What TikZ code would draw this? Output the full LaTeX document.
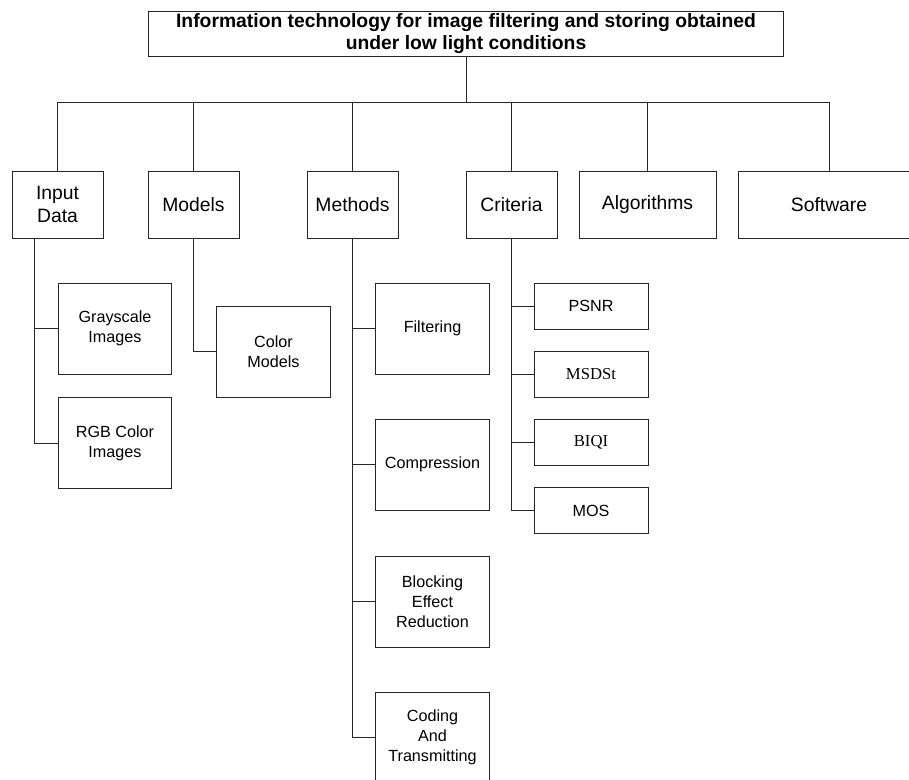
\documentclass[tikz,border=0pt]{standalone}
\usepackage{fontspec}
\setmainfont{Liberation Sans}
\newfontfamily\serifface{Liberation Serif}

\tikzset{
    box/.style={draw=black!85, line width=0.55pt, align=center, inner sep=2pt},
    topbox/.style={box, minimum width=1.82cm, minimum height=1.34cm, font=\fontsize{11}{13}\selectfont},
    subbox/.style={box, minimum width=2.27cm, minimum height=1.82cm, font=\fontsize{9.2}{11.3}\selectfont},
    critbox/.style={box, minimum width=2.28cm, minimum height=0.92cm, font=\fontsize{9.2}{11.3}\selectfont},
    link/.style={draw=black!85, line width=0.55pt}
}

\begin{document}
\begin{tikzpicture}[x=0.02cm, y=-0.02cm]
    \useasboundingbox (0,0) rectangle (909,780);
    \clip (0,0) rectangle (909,780);

    % title
    \node[box, minimum width=12.72cm, minimum height=0.9cm, inner sep=1pt, font=\bfseries\fontsize{11}{12.8}\selectfont]
        (title) at (466,33.5) {Information technology for image filtering and storing obtained\\under low light conditions};
    \coordinate (bus) at (466,102);

    % first level
    \node[topbox] (input) at (57.5,204.5) {Input\\Data};
    \node[topbox] (models) at (193.5,204.5) {Models};
    \node[topbox] (methods) at (352.5,204.5) {Methods};
    \node[topbox] (criteria) at (511.5,204.5) {Criteria};
    \node[topbox, minimum width=2.74cm] (algorithms) at (647.5,204.5) {Algorithms};
    \node[topbox, minimum width=3.64cm] (software) at (829,204.5) {Software};

    \draw[link] (title.south) -- (bus);
    \draw[link] (input.north) |- (software.north |- bus) -- (software.north);
    \foreach \n in {models,methods,criteria,algorithms}
        \draw[link] (\n.north) -- (\n.north |- bus);

    % input data
    \node[subbox] (gray) at (115,328.5) {Grayscale\\Images};
    \node[subbox] (rgb) at (115,443) {RGB Color\\Images};
    \draw[link] ([xshift=0.46cm]input.south west) |- (rgb.west);
    \draw[link] (gray.west) -- ++(-0.46cm,0);

    % models
    \node[subbox] (colormodels) at (273.5,351.5) {Color\\Models};
    \draw[link] (models.south) |- (colormodels.west);

    % methods
    \node[subbox] (filtering) at (432.5,328.5) {Filtering};
    \node[subbox] (compression) at (432.5,464.5) {Compression};
    \node[subbox] (blocking) at (432.5,601.5) {Blocking\\Effect\\Reduction};
    \node[subbox] (coding) at (432.5,737.5) {Coding\\And\\Transmitting};
    \draw[link] (methods.south) |- (coding.west);
    \foreach \n in {filtering,compression,blocking}
        \draw[link] (\n.west) -- (\n.west -| methods.south);

    % criteria
    \node[critbox] (psnr) at (591,306) {PSNR};
    \node[critbox, font=\serifface\fontsize{9.5}{12}\selectfont] (msdst) at (591,374.5) {MSDSt};
    \node[critbox, font=\serifface\fontsize{9.5}{12}\selectfont] (biqi) at (591,442.5) {BIQI};
    \node[critbox] (mos) at (591,510.5) {MOS};
    \draw[link] (criteria.south) |- (mos.west);
    \foreach \n in {psnr,msdst,biqi}
        \draw[link] (\n.west) -- (\n.west -| criteria.south);
\end{tikzpicture}
\end{document}
